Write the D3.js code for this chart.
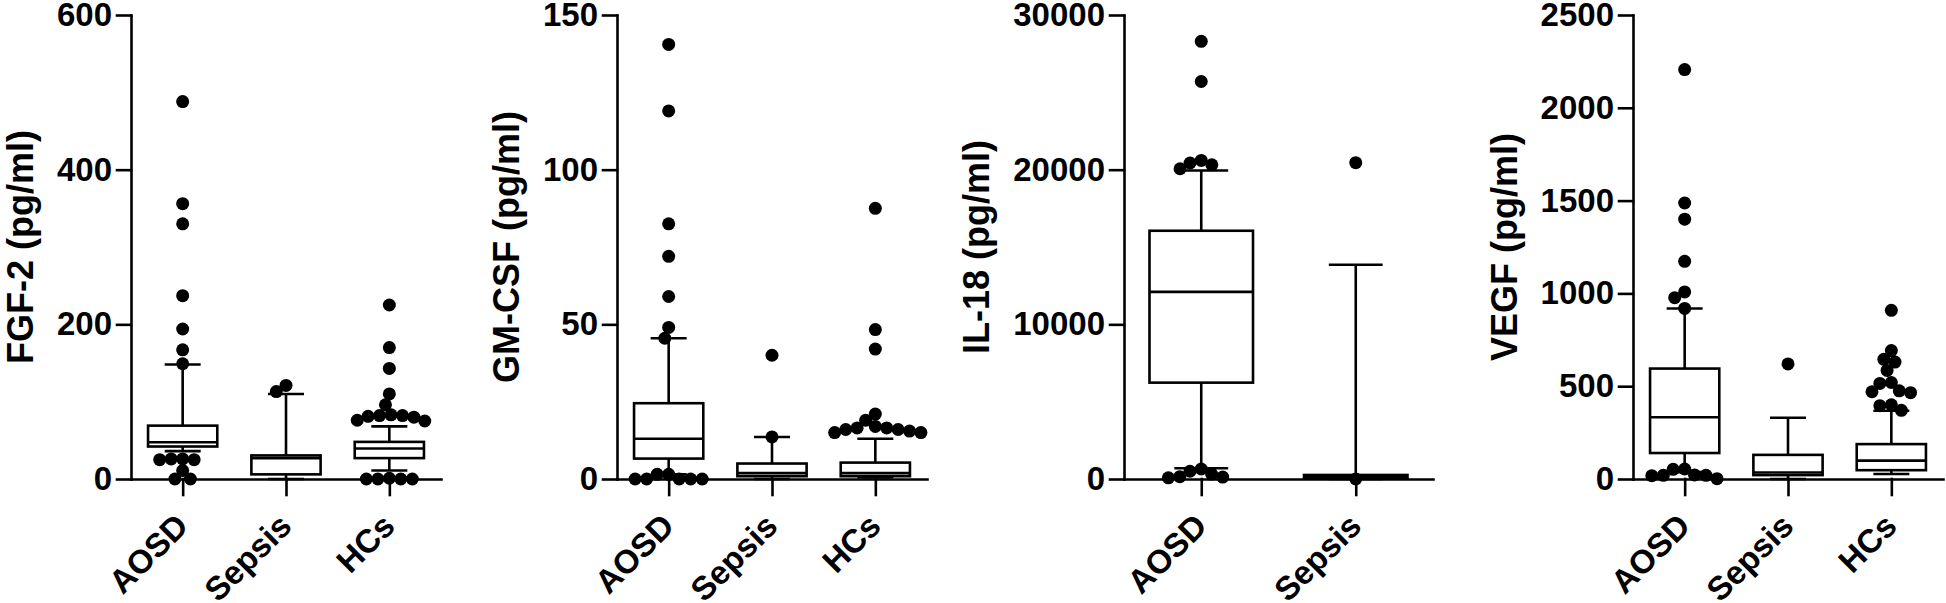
<!DOCTYPE html>
<html>
<head>
<meta charset="utf-8">
<script src="https://cdn.jsdelivr.net/npm/d3@7"></script>
<style>
  body { margin: 0; background: #fff; }
  svg { display: block; font-family: 'Liberation Sans', Arial, sans-serif; font-weight: bold; }
  .axis path, .axis line { stroke: #000; stroke-width: 2.6; stroke-linecap: square; }
  .axis text { font-size: 33px; font-weight: bold; fill: #000; font-family: 'Liberation Sans', Arial, sans-serif; }
  .box rect, .box line { stroke: #000; stroke-width: 2.6; }
</style>
</head>
<body>
<svg width="1946" height="603"></svg>
<script>
// box stats are [whisker low, q1, median, q3, whisker high]
const fgfGroups = ['AOSD', 'Sepsis', 'HCs'];
const fgfTicks = [0, 200, 400, 600];
const fgfBoxes = [
  [36, 42, 47.5, 69, 148],
  [0, 6, 27, 30.5, 110],
  [11, 27, 39.5, 48, 68]
];
const fgfOutliers = [
  [488, 356, 330, 237, 194, 167, 149, 26, 26, 25, 25, 11, 0, 0],
  [121, 113],
  [225, 170, 143, 110, 96, 83, 82, 82, 81, 80, 76, 75, 1, 0, 0, 0, 0]
];

const gmGroups = ['AOSD', 'Sepsis', 'HCs'];
const gmTicks = [0, 50, 100, 150];
const gmBoxes = [
  [1.5, 6.6, 13, 24.5, 45.5],
  [0, 0.9, 1.9, 5, 13.6],
  [0.5, 0.9, 1.9, 5.3, 13]
];
const gmOutliers = [
  [140.5, 119, 82.5, 72, 59, 49, 45.5, 1.5, 1.5, 0, 0, 0, 0, 0],
  [40, 13.6],
  [87.5, 48.3, 42, 21, 19, 17, 16.5, 16.5, 16, 16, 15.5, 15, 15]
];

const ilGroups = ['AOSD', 'Sepsis'];
const ilTicks = [0, 10000, 20000, 30000];
const ilBoxes = [
  [695, 6230, 12100, 16050, 19950],
  [0, 60, 150, 260, 13850]
];
const ilOutliers = [
  [28300, 25700, 20600, 20430, 20310, 20060, 645, 500, 320, 150, 124, 75],
  [20450, 0]
];

const vegfGroups = ['AOSD', 'Sepsis', 'HCs'];
const vegfTicks = [0, 500, 1000, 1500, 2000, 2500];
const vegfBoxes = [
  [37, 140, 333, 595, 919],
  [0, 21, 35, 130, 330],
  [27, 47.5, 99, 188, 368]
];
const vegfOutliers = [
  [2206, 1487, 1400, 1173, 1008, 977, 919, 54, 52, 22, 20, 20, 18, 2],
  [620],
  [909, 692, 645, 630, 585, 520, 515, 475, 470, 465, 400, 395, 370]
];

const panels = [
  {label: 'FGF-2 (pg/ml)', groups: fgfGroups, ticks: fgfTicks, boxes: fgfBoxes, outliers: fgfOutliers, left: 131, right: 441},
  {label: 'GM-CSF (pg/ml)', groups: gmGroups, ticks: gmTicks, boxes: gmBoxes, outliers: gmOutliers, left: 617, right: 927},
  {label: 'IL-18 (pg/ml)', groups: ilGroups, ticks: ilTicks, boxes: ilBoxes, outliers: ilOutliers, left: 1124, right: 1433},
  {label: 'VEGF (pg/ml)', groups: vegfGroups, ticks: vegfTicks, boxes: vegfBoxes, outliers: vegfOutliers, left: 1633, right: 1943}
];

const svg = d3.select('svg');
const plotTop = 15;
const zero = 479;
const r = 6.5;
const minDist = 11.5;

// simple beeswarm: put each dot as close to the centre as it can go without overlapping much
function swarm(values, y) {
  const placed = [];
  values.slice().sort((a, b) => b - a).forEach((v) => {
    const py = y(v);
    const candidates = [0];
    placed.forEach((p) => {
      const dy = Math.abs(p.y - py);
      if (dy < minDist) {
        const dx = Math.sqrt(minDist * minDist - dy * dy);
        candidates.push(p.x + dx, p.x - dx);
      }
    });
    candidates.sort((a, b) => Math.abs(a) - Math.abs(b) || a - b);
    const ok = candidates.find((cx) => placed.every((p) =>
      Math.hypot(p.x - cx, p.y - py) >= minDist - 0.01));
    placed.push({x: ok, y: py, v});
  });
  return placed;
}

panels.forEach((p) => {
  const g = svg.append('g');
  const y = d3.scaleLinear().domain([0, d3.max(p.ticks)]).range([zero, plotTop]);
  const x = d3.scalePoint().domain(p.groups).range([p.left, p.right]).padding(0.5);
  const boxW = x.step() * 0.67;
  const capW = boxW * 0.52;

  const yAxis = g.append('g')
    .attr('class', 'axis')
    .attr('transform', `translate(${p.left},0)`)
    .call(d3.axisLeft(y).tickValues(p.ticks).tickSize(14).tickPadding(5)
      .tickSizeOuter(0).tickFormat(d3.format('d')));

  const xAxis = g.append('g')
    .attr('class', 'axis')
    .attr('transform', `translate(0,${zero})`)
    .call(d3.axisBottom(x).tickSize(16).tickSizeOuter(0));
  xAxis.selectAll('text')
    .attr('y', null)
    .attr('dy', null)
    .attr('text-anchor', 'end')
    .attr('transform', 'translate(7,49) rotate(-45)');

  const bb = yAxis.node().getBBox();
  g.append('text')
    .attr('transform', `translate(${p.left + bb.x - 24},${(plotTop + zero) / 2}) rotate(-90)`)
    .attr('text-anchor', 'middle')
    .style('font-size', '36px')
    .text(p.label);

  p.groups.forEach((name, i) => {
    const [lo, q1, med, q3, hi] = p.boxes[i];
    const cx = x(name);
    const b = g.append('g').attr('class', 'box');
    b.append('line').attr('x1', cx).attr('x2', cx).attr('y1', y(q3)).attr('y2', y(hi));
    b.append('line').attr('x1', cx).attr('x2', cx).attr('y1', y(q1)).attr('y2', y(lo));
    b.append('line').attr('x1', cx - capW / 2).attr('x2', cx + capW / 2).attr('y1', y(hi)).attr('y2', y(hi));
    b.append('line').attr('x1', cx - capW / 2).attr('x2', cx + capW / 2).attr('y1', y(lo)).attr('y2', y(lo));
    b.append('rect')
      .attr('x', cx - boxW / 2)
      .attr('width', boxW)
      .attr('y', y(q3))
      .attr('height', y(q1) - y(q3))
      .attr('fill', '#fff');
    b.append('line').attr('x1', cx - boxW / 2).attr('x2', cx + boxW / 2).attr('y1', y(med)).attr('y2', y(med));

    g.append('g').selectAll('circle')
      .data(swarm(p.outliers[i], y))
      .enter()
      .append('circle')
      .attr('cx', (d) => cx + d.x)
      .attr('cy', (d) => d.y)
      .attr('r', r)
      .attr('fill', '#000');
  });
});
</script>
</body>
</html>
